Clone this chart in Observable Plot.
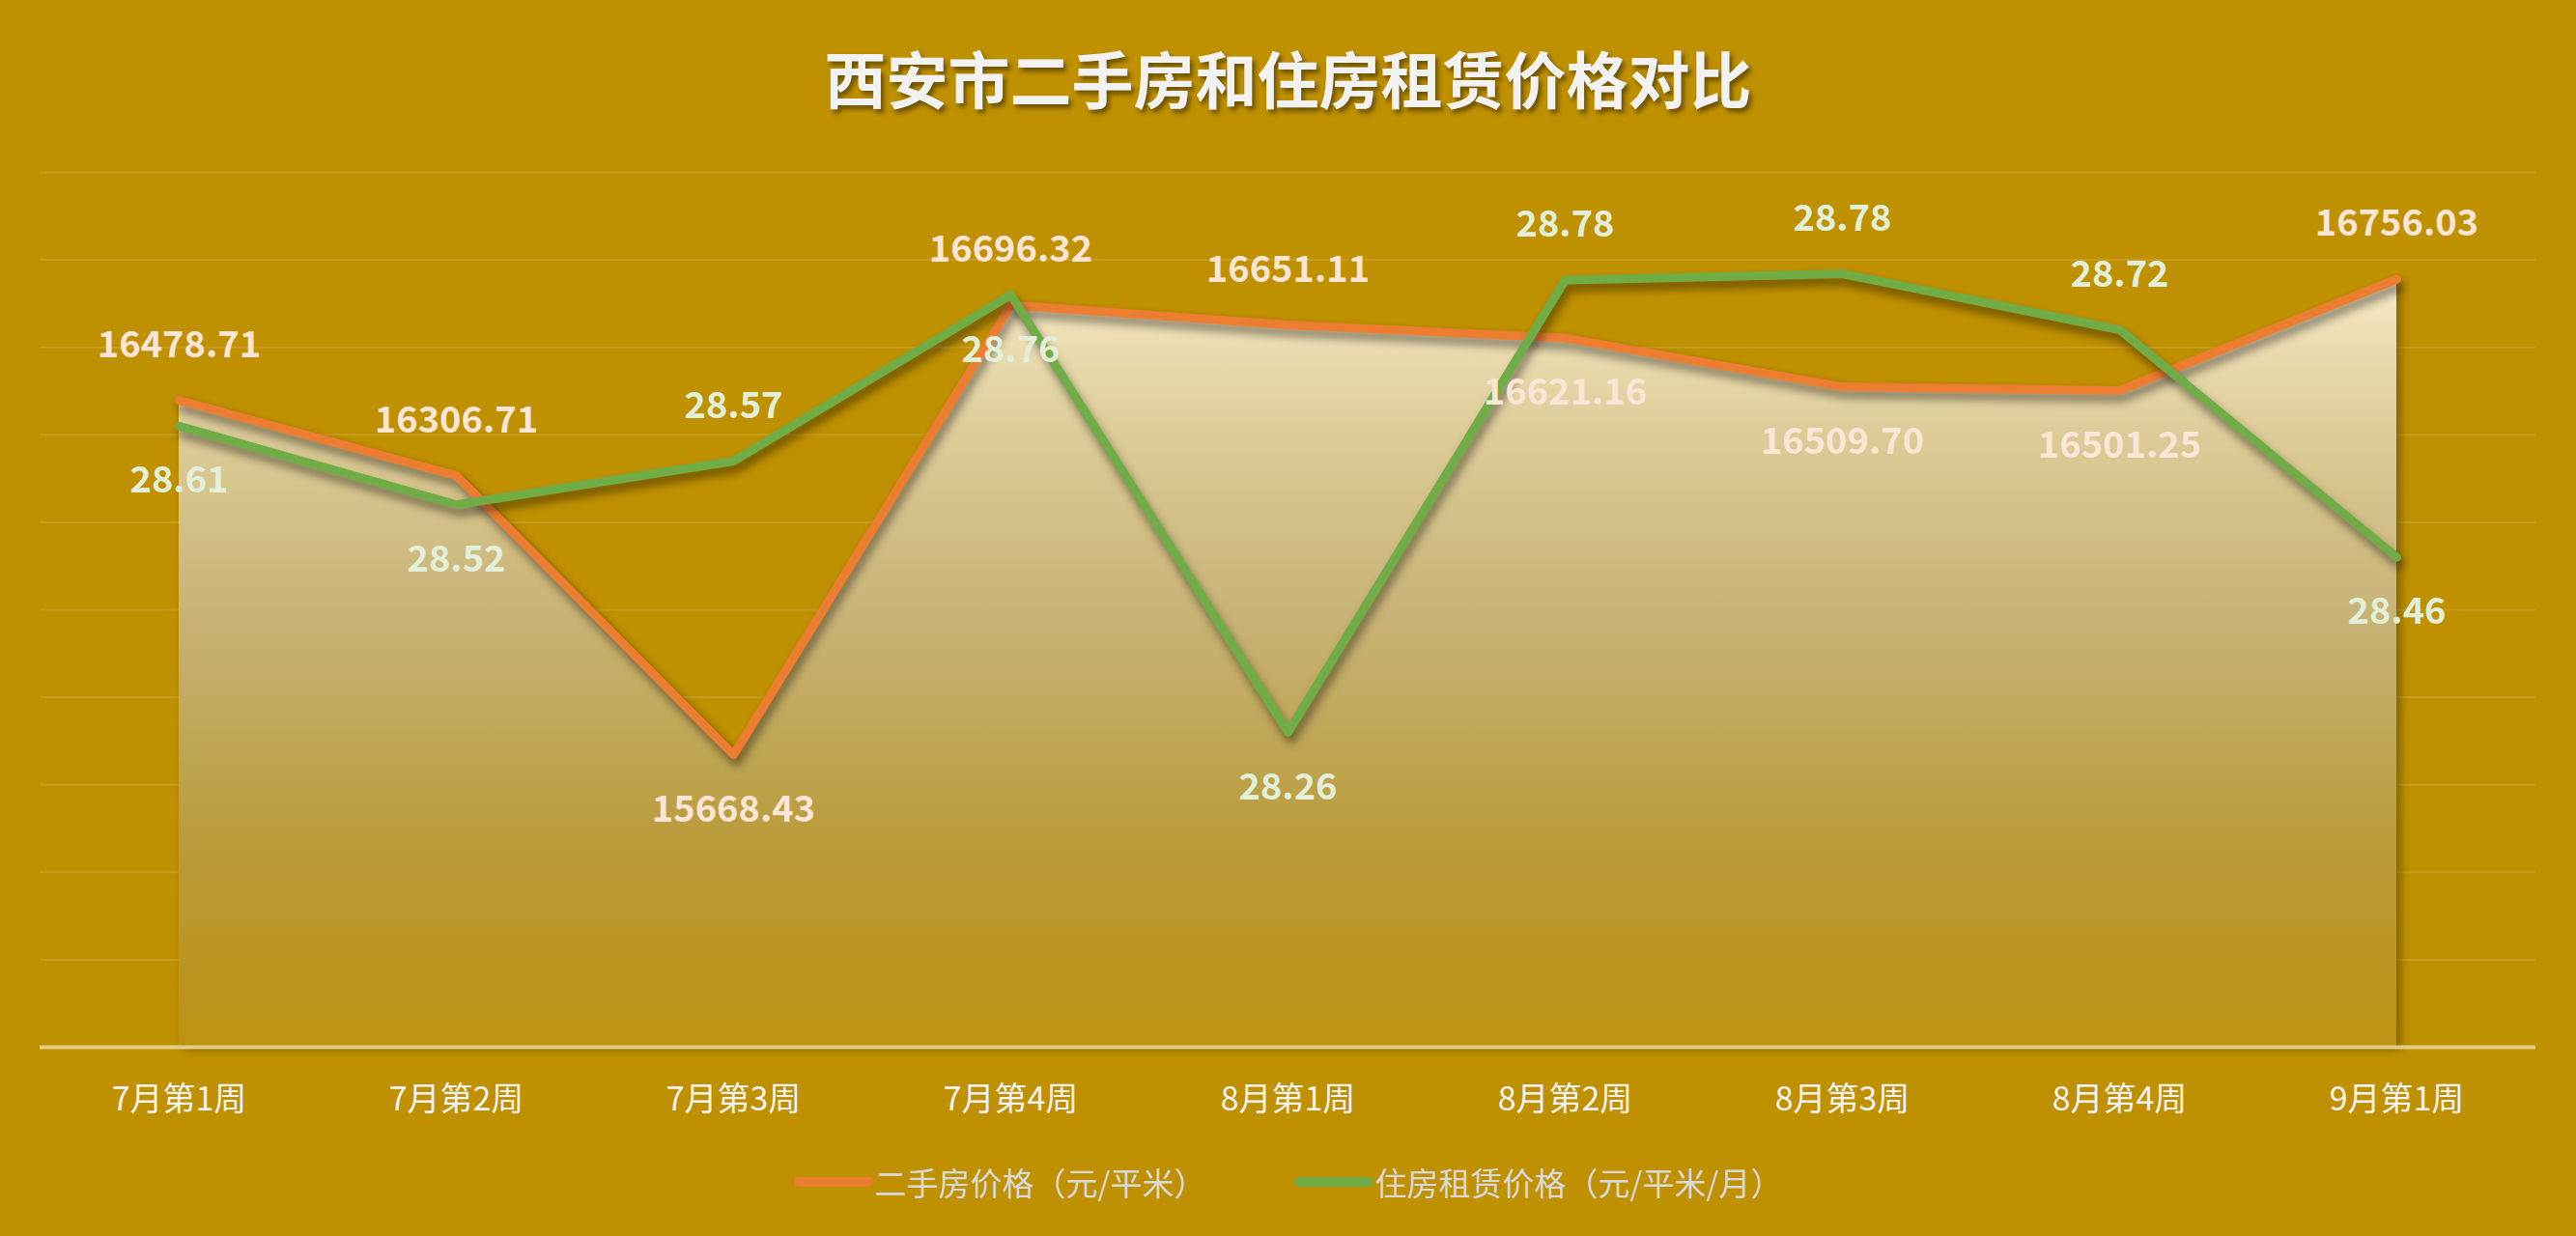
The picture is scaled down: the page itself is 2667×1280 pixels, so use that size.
<!DOCTYPE html>
<html>
<head>
<meta charset="utf-8">
<script src="https://cdn.jsdelivr.net/npm/d3@7"></script>
<script src="https://cdn.jsdelivr.net/npm/@observablehq/plot@0.6"></script>
<style>
  html, body { margin: 0; padding: 0; background: #BF9000; }
  #wrap { position: relative; width: 2667px; height: 1280px; overflow: hidden; font-family: "Noto Sans CJK SC", "Noto Sans", sans-serif; }
  #title { position: absolute; left: 0; right: 0; top: 47px; height: 64px; line-height: 64px; text-align: center; font-size: 64px; font-weight: bold; color: #F2F2F2; text-shadow: 3px 4px 5px rgba(0,0,0,0.45); }
  #chart { position: absolute; left: 0; top: 0; }
  #legend { position: absolute; left: 0; right: 0; top: 1204px; height: 40px; display: flex; justify-content: center; align-items: center; font-size: 33px; color: #D9D9D9; }
  .item { display: flex; align-items: center; }
  .item + .item { margin-left: 91px; }
  .sw { width: 82px; height: 10px; border-radius: 5px; margin-right: 2px; }
</style>
</head>
<body>
<div id="wrap">
  <div id="title">西安市二手房和住房租赁价格对比</div>
  <div id="chart"></div>
  <div id="legend"></div>
</div>
<script>
// ---- data ----
const weeks = ["7月第1周", "7月第2周", "7月第3周", "7月第4周", "8月第1周", "8月第2周", "8月第3周", "8月第4周", "9月第1周"];
const resalePrice = [16478.71, 16306.71, 15668.43, 16696.32, 16651.11, 16621.16, 16509.70, 16501.25, 16756.03];
const rentPrice = [28.61, 28.52, 28.57, 28.76, 28.26, 28.777, 28.784, 28.72, 28.46];
const seriesNames = ["二手房价格（元/平米）", "住房租赁价格（元/平米/月）"];
const seriesColors = ["#ED7D31", "#70AD47"];
const priceAxis = [15000, 17000];   // primary axis
const rentAxis = [27.9, 28.9];      // secondary axis
const priceTicks = d3.range(15200, 17001, 200);
// label placement: true = above point
const resaleLabelAbove = [true, true, false, true, true, false, false, false, true];

// map secondary-axis values onto the primary axis
const toPrimary = v => priceAxis[0] + (v - rentAxis[0]) / (rentAxis[1] - rentAxis[0]) * (priceAxis[1] - priceAxis[0]);

const rows = weeks.map((w, i) => ({
  week: w,
  resale: resalePrice[i],
  rent: rentPrice[i],
  rentY: toPrimary(rentPrice[i]),
  resaleAbove: resaleLabelAbove[i]
}));

const defs = () => {
  const d = d3.create("svg:defs");
  const g = d.append("linearGradient").attr("id", "areaGrad").attr("x1", 0).attr("y1", 0).attr("x2", 0).attr("y2", 1);
  [[0, "#F6E9C5"], [0.2, "#DDCC98"], [0.45, "#C7B274"], [0.75, "#B99A38"], [1, "#BD9212"]].forEach(([o, c]) =>
    g.append("stop").attr("offset", o).attr("stop-color", c));
  return d.node();
};

const labelFont = 38;
const off = 57;

const plot = Plot.plot({
  width: 2667,
  height: 1280,
  marginTop: 178,
  marginBottom: 196,
  marginLeft: 41,
  marginRight: 42,
  style: { background: "transparent", fontFamily: "'Noto Sans CJK SC', 'Noto Sans', sans-serif", overflow: "visible" },
  x: { type: "point", domain: weeks, padding: 0.5, label: null },
  y: { domain: priceAxis, axis: null },
  marks: [
    defs,
    Plot.ruleY(priceTicks, { stroke: "#FFFFFF", strokeOpacity: 0.12, strokeWidth: 2 }),
    Plot.areaY(rows, { x: "week", y1: priceAxis[0], y2: "resale", fill: "url(#areaGrad)" }),
    Plot.ruleY([priceAxis[0]], { stroke: "#E3CD86", strokeWidth: 4 }),
    Plot.lineY(rows, { x: "week", y: "resale", stroke: seriesColors[0], strokeWidth: 9, strokeLinecap: "round", strokeLinejoin: "round" }),
    Plot.lineY(rows, { x: "week", y: "rentY", stroke: seriesColors[1], strokeWidth: 9, strokeLinecap: "round", strokeLinejoin: "round" }),
    Plot.text(rows.filter(d => d.resaleAbove), { x: "week", y: "resale", text: d => d.resale.toFixed(2), dy: -off, fill: "#FBE5D6", fontSize: labelFont, fontWeight: "bold", lineAnchor: "middle" }),
    Plot.text(rows.filter(d => !d.resaleAbove), { x: "week", y: "resale", text: d => d.resale.toFixed(2), dy: off, fill: "#FBE5D6", fontSize: labelFont, fontWeight: "bold", lineAnchor: "middle" }),
    Plot.text(rows.filter(d => d.resaleAbove), { x: "week", y: "rentY", text: d => d.rent.toFixed(2), dy: off, fill: "#E2F0D9", fontSize: labelFont, fontWeight: "bold", lineAnchor: "middle" }),
    Plot.text(rows.filter(d => !d.resaleAbove), { x: "week", y: "rentY", text: d => d.rent.toFixed(2), dy: -off, fill: "#E2F0D9", fontSize: labelFont, fontWeight: "bold", lineAnchor: "middle" }),
    Plot.axisX({ tickSize: 0, tickPadding: 41, fontSize: 34, color: "#F2F2F2", label: null })
  ]
});

plot.querySelectorAll('g[aria-label="line"]').forEach(g => g.style.filter = "drop-shadow(3px 7px 5px rgba(0,0,0,0.45))");
plot.querySelectorAll('g[aria-label="area"]').forEach(g => g.style.filter = "drop-shadow(5px 3px 5px rgba(0,0,0,0.3))");
document.getElementById("chart").appendChild(plot);

// legend
const legend = document.getElementById("legend");
seriesNames.forEach((name, i) => {
  const item = document.createElement("div");
  item.className = "item";
  const sw = document.createElement("div");
  sw.className = "sw";
  sw.style.background = seriesColors[i];
  const t = document.createElement("span");
  t.textContent = name;
  item.appendChild(sw);
  item.appendChild(t);
  legend.appendChild(item);
});
</script>
</body>
</html>
